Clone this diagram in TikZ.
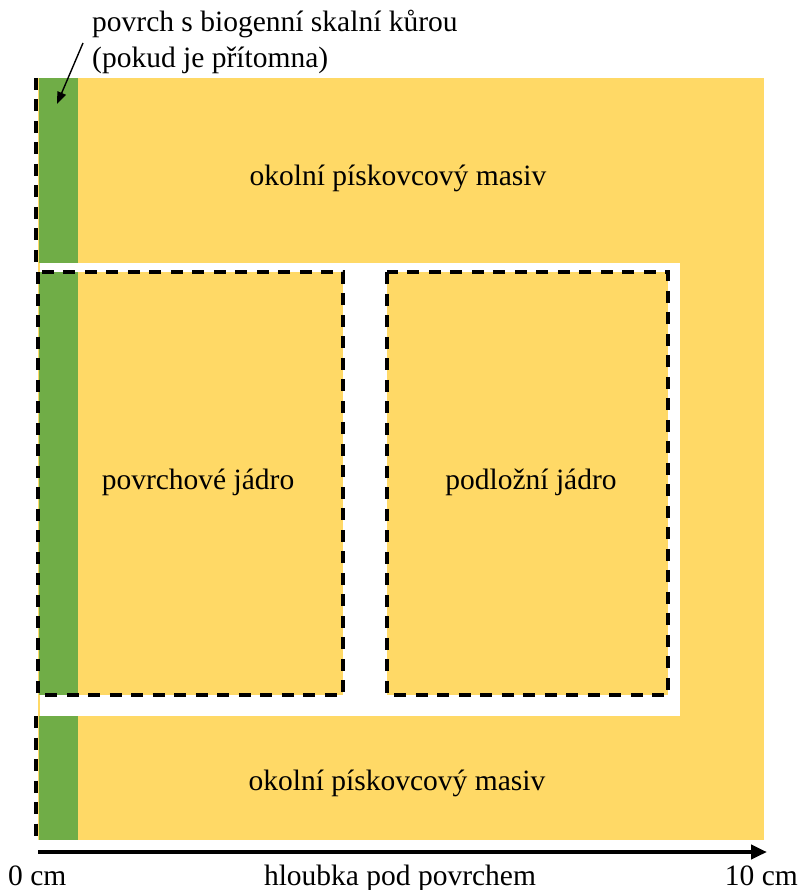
\documentclass[tikz,border=0pt]{standalone}
\usepackage{fontspec}
\setmainfont{Liberation Serif}
\usetikzlibrary{arrows.meta}
\definecolor{sand}{HTML}{FFD966}
\definecolor{crust}{HTML}{70AD47}
\begin{document}
\begin{tikzpicture}[x=1pt,y=-1pt,
  lbl/.style={font=\fontsize{29.5}{34}\selectfont, inner sep=0pt},
  dashline/.style={draw=black, line width=3.2pt, dash pattern=on 12pt off 9.5pt},
  corebox/.style={dashline, fill=sand},
  pointer/.style={line width=1.4pt, -{Triangle[length=12pt,width=9pt]}},
  axis/.style={line width=4pt, -{Triangle[length=16pt,width=14pt]}}]
\useasboundingbox (0,0) rectangle (802,890);

% surrounding sandstone block with the cut-out for the two cores
\fill[sand] (38,78) rectangle (764,840);
\fill[white] (40,263) rectangle (680,716);
\fill[crust] (39,78) rectangle (78,263);
\fill[crust] (39,716) rectangle (78,840);
\draw[dashline] (36,78) -- (36,263);
\draw[dashline] (36,716) -- (36,840);

% surface core (with crust) and subsurface core
\fill[sand] (38,272) rectangle (343,695);
\fill[crust] (39,272) rectangle (78,695);
\draw[dashline] (38,272) rectangle (343,695);
\draw[corebox] (387,272) rectangle (668,695);

% labels
\node[lbl, anchor=base west] (crustA) at (92,32) {povrch s biogenní skalní kůrou};
\node[lbl, anchor=base west] (crustB) at (92,68) {(pokud je přítomna)};
\node[lbl, anchor=base] (massifTop) at (398,186) {okolní pískovcový masiv};
\node[lbl, anchor=base] (massifBot) at (397,790) {okolní pískovcový masiv};
\node[lbl, anchor=base] (coreSurf) at (198,489) {povrchové jádro};
\node[lbl, anchor=base] (coreSub) at (531,489) {podložní jádro};

% pointer to the crust
\coordinate (ptrTail) at (83,43);
\coordinate (ptrTip) at (57,104);
\draw[pointer] (ptrTail) -- (ptrTip);

% depth axis
\coordinate (axStart) at (38,852);
\coordinate (axEnd) at (767,852);
\draw[axis] (axStart) -- (axEnd);
\node[lbl, anchor=base west] (zero) at (8,885) {0 cm};
\node[lbl, anchor=base] (depth) at (400,885) {hloubka pod povrchem};
\node[lbl, anchor=base east] (ten) at (798,885) {10 cm};
\end{tikzpicture}
\end{document}
